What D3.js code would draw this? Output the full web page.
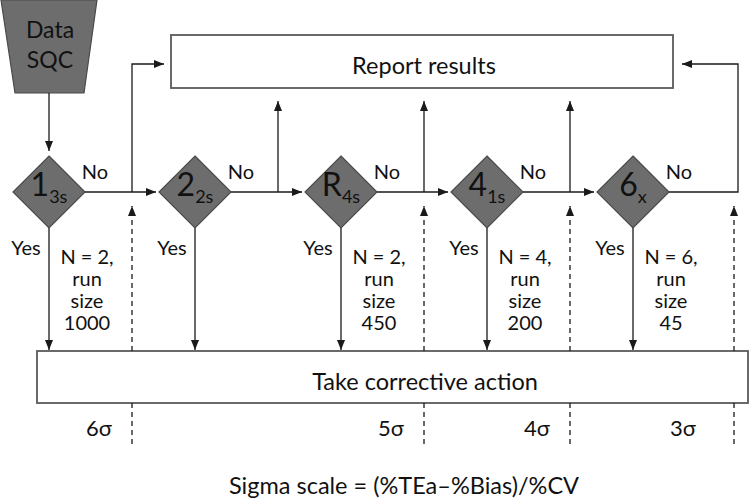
<!DOCTYPE html>
<html><head><meta charset="utf-8">
<script src="https://cdn.jsdelivr.net/npm/d3@7"></script>
<style>
body{margin:0;background:#fff}
text{font-family:Lato,"Open Sans",sans-serif;fill:#111}
</style></head>
<body><svg id="chart" width="749" height="500"></svg>
<script>
// ---- data ----
const rules = ["1", "2", "R", "4", "6"];
const ruleSubs = ["3s", "2s", "4s", "1s", "x"];
const runN = [2, null, 2, 4, 6];
const runSize = [1000, null, 450, 200, 45];
const sigmaLabels = ["6σ", "5σ", "4σ", "3σ"];
const sigmaAfterRule = [0, 2, 3, 4];
const startLabel = ["Data", "SQC"];
const reportLabel = "Report results";
const actionLabel = "Take corrective action";
const formulaLabel = "Sigma scale = (%TEa\u2013%Bias)/%CV";

// ---- layout ----
const svg = d3.select("#chart");
const x = d3.scaleLinear().domain([0, rules.length - 1]).range([49, 633]);
const rowY = 192, half = 36;
const junction = i => i < rules.length - 1 ? x(i) + 83 : 738;
const dashX = i => i < rules.length - 1 ? x(i) + 83 : 734;
const report = {x0: 171, x1: 673, y0: 35, y1: 88};
const action = {x0: 37, x1: 748, y0: 351, y1: 403};
const lineCol = "#1a1a1a";

const defs = svg.append("defs");
defs.append("marker").attr("id", "ah")
  .attr("viewBox", "0 0 10 8").attr("refX", 10).attr("refY", 4)
  .attr("markerUnits", "userSpaceOnUse").attr("markerWidth", 11).attr("markerHeight", 8)
  .attr("orient", "auto")
  .append("path").attr("d", "M0,0L10,4L0,8Z").attr("fill", lineCol);

const line = d3.line();
function arrow(pts, dashed) {
  svg.append("path").attr("d", line(pts)).attr("fill", "none")
    .attr("stroke", lineCol).attr("stroke-width", 1.3)
    .attr("stroke-dasharray", dashed ? "5,4" : null)
    .attr("marker-end", "url(#ah)");
}
function plain(pts, dashed) {
  svg.append("path").attr("d", line(pts)).attr("fill", "none")
    .attr("stroke", lineCol).attr("stroke-width", 1.3)
    .attr("stroke-dasharray", dashed ? "5,4" : null);
}

// start trapezoid
svg.append("path").attr("d", line([[1, 0], [97, 0], [84, 93], [15, 93]]) + "Z")
  .attr("fill", "#6d6d6d").attr("stroke", "#4a4a4a").attr("stroke-width", 1.2);
svg.selectAll(".startLbl").data(startLabel).join("text")
  .attr("x", 50).attr("y", (d, i) => 38 + i * 30).attr("text-anchor", "middle")
  .attr("font-size", 23).text(d => d);
arrow([[x(0), 93], [x(0), 151]]);

// boxes
svg.append("rect").attr("x", report.x0).attr("y", report.y0)
  .attr("width", report.x1 - report.x0).attr("height", report.y1 - report.y0)
  .attr("fill", "#fff").attr("stroke", "#5a5a5a").attr("stroke-width", 1.8);
svg.append("text").attr("x", 424).attr("y", 74)
  .attr("text-anchor", "middle").attr("font-size", 23.5).text(reportLabel);
svg.append("rect").attr("x", action.x0).attr("y", action.y0)
  .attr("width", action.x1 - action.x0).attr("height", action.y1 - action.y0)
  .attr("fill", "#fff").attr("stroke", "#5a5a5a").attr("stroke-width", 1.8);
svg.append("text").attr("x", 425).attr("y", 390)
  .attr("text-anchor", "middle").attr("font-size", 23.5).text(actionLabel);

// connectors
rules.forEach((r, i) => {
  const cx = x(i);
  if (i < rules.length - 1) {
    arrow([[cx + half, rowY], [x(i + 1) - half - 3, rowY]]);
    if (i === 0) arrow([[junction(i), rowY], [junction(i), 64], [report.x0 - 7, 64]]);
    else arrow([[junction(i), rowY], [junction(i), report.y1 + 13]]);
  } else {
    arrow([[cx + half, rowY], [junction(i), rowY], [junction(i), 64], [report.x1 + 9, 64]]);
  }
  arrow([[cx, rowY + half], [cx, action.y0 - 1]]);
});

// dashed sigma boundaries
sigmaAfterRule.forEach(i => {
  arrow([[dashX(i), action.y0], [dashX(i), 206]], true);
  plain([[dashX(i), action.y1], [dashX(i), 447]], true);
});

// diamonds
const dg = svg.selectAll(".rule").data(rules).join("g")
  .attr("transform", (d, i) => `translate(${x(i)},${rowY})`);
dg.append("path").attr("d", `M0,${-half}L${half},0L0,${half}L${-half},0Z`)
  .attr("fill", "#6d6d6d").attr("stroke", "#4a4a4a").attr("stroke-width", 1.2);
const lt = dg.append("text").attr("text-anchor", "middle").attr("y", 4);
lt.append("tspan").attr("font-size", 32).text(d => d);
lt.append("tspan").attr("font-size", 18).attr("dy", 7).text((d, i) => ruleSubs[i]);

// yes / no
dg.append("text").attr("x", -23).attr("y", 63).attr("text-anchor", "middle")
  .attr("font-size", 20).text("Yes");
dg.append("text").attr("x", 46).attr("y", -13).attr("text-anchor", "middle")
  .attr("font-size", 20).text("No");

// run sizes
rules.forEach((r, i) => {
  if (runN[i] == null) return;
  const lines = [`N = ${runN[i]},`, "run", "size", String(runSize[i])];
  svg.append("g").selectAll("text").data(lines).join("text")
    .attr("x", x(i) + 38).attr("y", (d, k) => 264 + k * 22)
    .attr("text-anchor", "middle").attr("font-size", 20).text(d => d);
});

// sigma labels
svg.selectAll(".sig").data(sigmaLabels).join("text")
  .attr("x", (d, k) => x(sigmaAfterRule[k]) + 50).attr("y", 436)
  .attr("text-anchor", "middle").attr("font-size", 22).text(d => d);

svg.append("text").attr("x", 404).attr("y", 494).attr("text-anchor", "middle")
  .attr("font-size", 23.5).text(formulaLabel);
</script></body></html>
